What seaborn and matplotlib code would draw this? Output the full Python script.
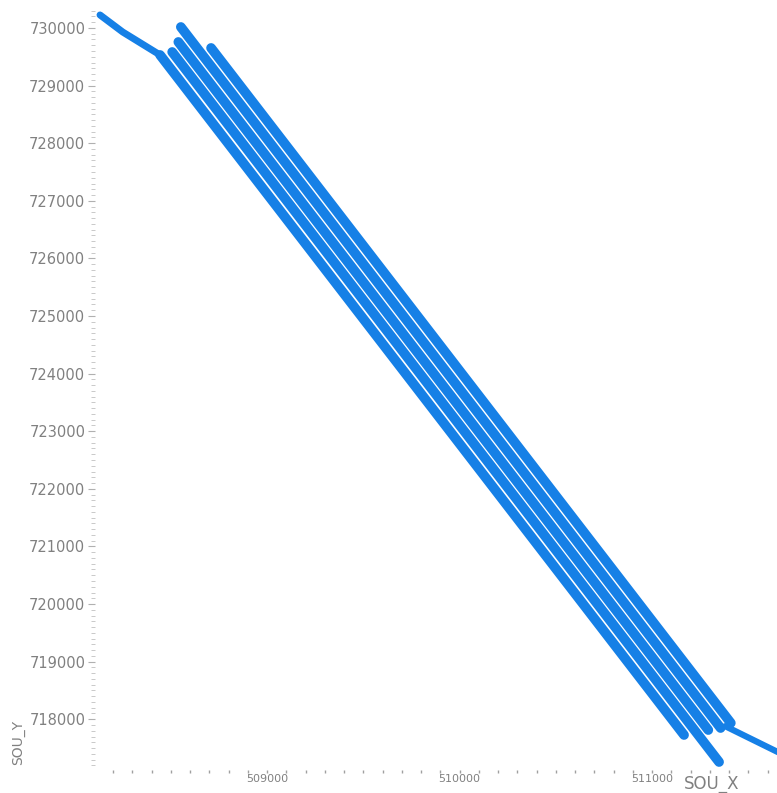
import matplotlib
matplotlib.use("Agg")
import matplotlib.pyplot as plt
import matplotlib.ticker as mticker
import seaborn as sns
import pandas as pd

# ---- data (source positions along survey swaths) ----
swath_ids = ["L1", "L2", "L3", "L4", "L5"]
swath_x = [
    [508444, 511166],
    [508507, 511348],
    [508539, 511292],
    [508552, 511356],
    [508709, 511409],
]
swath_y = [
    [729531, 717727],
    [729583, 717258],
    [729757, 717813],
    [730017, 717848],
    [729653, 717935],
]
leadin_x = [508132, 508250, 508444]
leadin_y = [730226, 729930, 729531]
tail_x = [511380, 511769]
tail_y = [717880, 717240]

y_major = [718000, 719000, 720000, 721000, 722000, 723000, 724000,
           725000, 726000, 727000, 728000, 729000, 730000]
x_major = [509000, 510000, 511000]

color = "#1680E6"

rows = []
for sid, xs, ys in zip(swath_ids, swath_x, swath_y):
    for x, y in zip(xs, ys):
        rows.append({"line": sid, "SOU_X": x, "SOU_Y": y})
df = pd.DataFrame(rows)
lead = pd.DataFrame({"line": "lead", "SOU_X": leadin_x, "SOU_Y": leadin_y})
tail = pd.DataFrame({"line": "tail", "SOU_X": tail_x, "SOU_Y": tail_y})

sns.set_style("white")
fig = plt.figure(figsize=(7.77, 7.93), dpi=100)
ax = fig.add_axes([95 / 777, 23 / 793, 682 / 777, 760 / 793])

sns.lineplot(data=df, x="SOU_X", y="SOU_Y", units="line", estimator=None,
             sort=False, color=color, lw=7.0, ax=ax,
             solid_capstyle="round")
sns.lineplot(data=lead, x="SOU_X", y="SOU_Y", estimator=None, sort=False,
             color=color, lw=5.0, ax=ax, solid_capstyle="round")
sns.lineplot(data=tail, x="SOU_X", y="SOU_Y", estimator=None, sort=False,
             color=color, lw=4.5, ax=ax, solid_capstyle="round")

ax.set_xlim(508106, 511649)
ax.set_ylim(717119, 730312)

for s in ax.spines.values():
    s.set_visible(False)

ax.yaxis.set_major_locator(mticker.FixedLocator(y_major))
ax.yaxis.set_minor_locator(mticker.MultipleLocator(100))
ax.xaxis.set_major_locator(mticker.FixedLocator(x_major))
ax.xaxis.set_minor_locator(mticker.MultipleLocator(100))
ax.set_yticklabels([str(v) for v in y_major])
ax.set_xticklabels([str(v) for v in x_major])

ax.tick_params(axis="y", which="major", length=5, width=0.8, color="#b0b0b0",
               labelsize=10.5, labelcolor="#808080", pad=2, left=True)
ax.tick_params(axis="y", which="minor", length=3, width=0.6, color="#c0c0c0",
               left=True)
ax.tick_params(axis="x", which="major", length=2, width=1.0, color="#a0a0a0",
               labelsize=8, labelcolor="#808080", pad=1, bottom=True)
ax.tick_params(axis="x", which="minor", length=2, width=1.0, color="#a0a0a0",
               bottom=True)

ax.set_xlabel("")
ax.set_ylabel("")
fig.text(712 / 777, 1 - 784 / 793, "SOU_X", ha="center", va="center",
         fontsize=12, color="#808080")
fig.text(18 / 777, 1 - 742 / 793, "SOU_Y", ha="center", va="center",
         fontsize=10, color="#808080", rotation=90)

fig.savefig("out.png", dpi=100)
